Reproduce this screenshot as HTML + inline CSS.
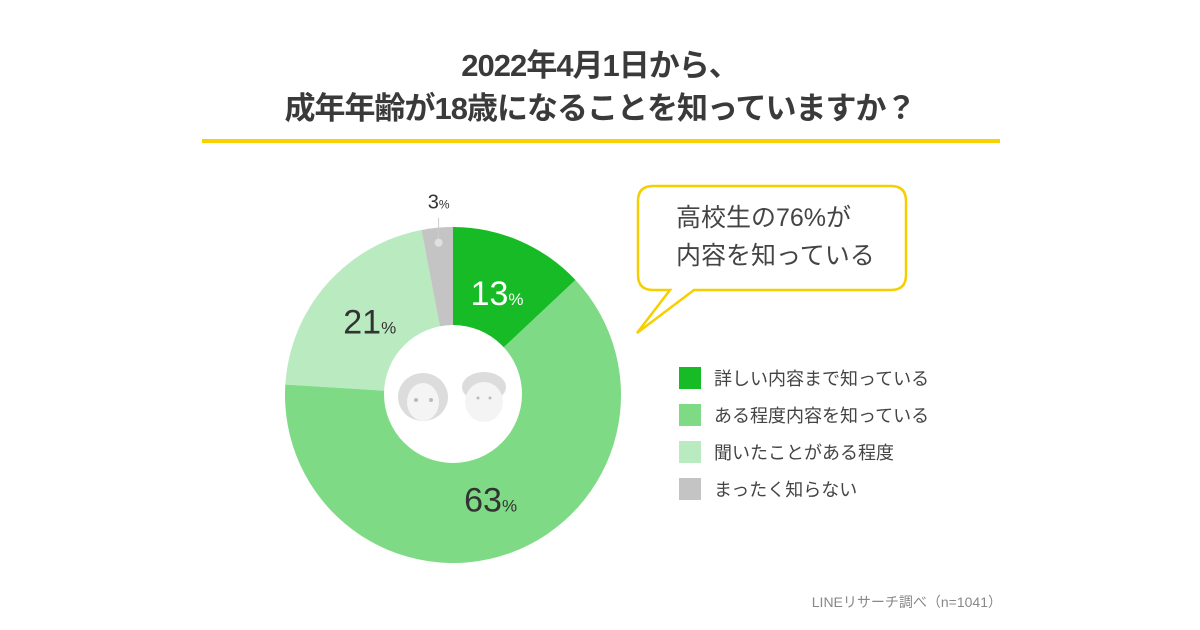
<!DOCTYPE html>
<html><head><meta charset="utf-8">
<style>
body{margin:0;width:1200px;height:630px;background:#fff;overflow:hidden;font-family:"Liberation Sans","Noto Sans CJK JP",sans-serif;color:#333;position:relative}
.t{position:absolute;left:0;width:1200px;text-align:center;font-size:31px;font-weight:bold;color:#3a3a3a;letter-spacing:-1px;line-height:1}
</style></head><body>
<div class="t" style="top:50px">2022年4月1日から、</div>
<div class="t" style="top:93px">成年年齢が18歳になることを知っていますか？</div>
<div style="position:absolute;left:202px;top:139px;width:798px;height:4px;background:#f7d200"></div>
<svg id="chart" width="1200" height="630" style="position:absolute;left:0;top:0">
</svg>
<div style="position:absolute;right:198px;top:592px;font-size:14px;color:#888">LINEリサーチ調べ（n=1041）</div>
<script>
const categories=["詳しい内容まで知っている","ある程度内容を知っている","聞いたことがある程度","まったく知らない"];
const values=[13,63,21,3];
const colors=["#17bb26","#7fda86","#b9eac0","#c4c4c4"];
const labelColors=["#fff","#333","#333","#333"];
const NS="http://www.w3.org/2000/svg";
const svg=document.getElementById('chart');
const cx=453,cy=395,R=168,r=69;
function mk(t,a){const e=document.createElementNS(NS,t);for(const k in a)e.setAttribute(k,a[k]);svg.appendChild(e);return e;}
function pt(ang,rad){return [cx+rad*Math.sin(ang),cy-rad*Math.cos(ang)];}
const total=values.reduce((a,b)=>a+b,0);
let acc=0;
values.forEach((v,i)=>{
 const a0=acc/total*2*Math.PI;acc+=v;const a1=acc/total*2*Math.PI;
 const [x0,y0]=pt(a0,R),[x1,y1]=pt(a1,R);const lg=(a1-a0)>Math.PI?1:0;
 const p=mk('path',{d:`M${cx},${cy}L${x0},${y0}A${R},${R} 0 ${lg} 1 ${x1},${y1}Z`,fill:colors[i]});
 
 
 const am=(a0+a1)/2;
 if(v>=5){
  const [lx,ly]=pt(am,111);
  const t=mk('text',{x:lx,y:ly+12,'text-anchor':'middle',fill:labelColors[i],'font-size':34,'font-family':'Liberation Sans, sans-serif'});
  
  
  t.innerHTML=v+'<tspan font-size="17">%</tspan>';
 } else {
  const [dx,dy]=pt(am,R-15);
  mk('line',{x1:dx,y1:dy,x2:dx,y2:dy-25,stroke:'#ccc','stroke-width':1});
  mk('circle',{cx:dx,cy:dy,r:4,fill:'#e0e0e0'});
  const t=mk('text',{x:dx,y:dy-34,'text-anchor':'middle',fill:'#333','font-size':20,'font-family':'Liberation Sans, sans-serif'});
  
  
  t.innerHTML=v+'<tspan font-size="12">%</tspan>';
 }
});
mk('circle',{cx:cx,cy:cy-1,r:r,fill:'#fff'});
const g='#dcdcdc';
mk('ellipse',{cx:423,cy:397,rx:25,ry:24,fill:g});
mk('ellipse',{cx:423,cy:402,rx:16,ry:19,fill:'#f4f4f4'});
mk('circle',{cx:416,cy:400,r:2,fill:'#bbb'});mk('circle',{cx:431,cy:400,r:2,fill:'#bbb'});
mk('ellipse',{cx:484,cy:387,rx:22,ry:15,fill:g});
mk('ellipse',{cx:484,cy:402,rx:19,ry:20,fill:'#f4f4f4'});
mk('circle',{cx:478,cy:398,r:1.5,fill:'#bbb'});mk('circle',{cx:490,cy:398,r:1.5,fill:'#bbb'});
const b=mk('path',{d:'M653,186 H891 Q906,186 906,201 V275 Q906,290 891,290 H694 L637,333 L670,290 H653 Q638,290 638,275 V201 Q638,186 653,186 Z',fill:'#fff',stroke:'#f5cf00','stroke-width':2.5});


const bt1=mk('text',{x:676,y:226,'font-size':25,fill:'#444'});bt1.textContent='高校生の76%が';


const bt2=mk('text',{x:676,y:264,'font-size':25,fill:'#444'});bt2.textContent='内容を知っている';


categories.forEach((c,i)=>{
 const y=367+i*37;
 const s=mk('rect',{x:679,y:y,width:22,height:22,fill:colors[i]});
 
 
 const t=mk('text',{x:714,y:y+18,'font-size':18,fill:'#444'});t.textContent=c;
 
 
});
</script>
</body></html>
